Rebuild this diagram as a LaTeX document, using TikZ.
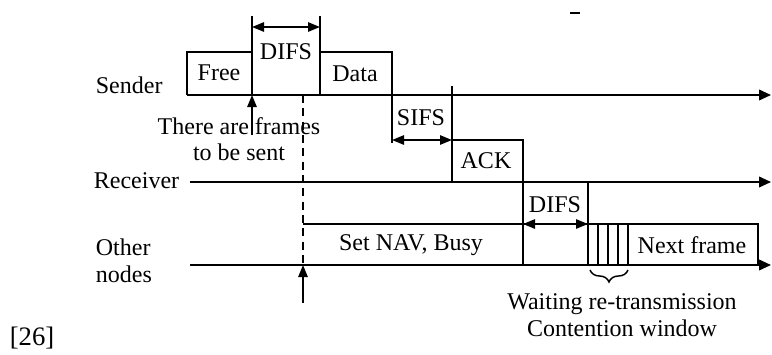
\documentclass[tikz,border=0pt]{standalone}
\usepackage{fontspec}
\setmainfont{Liberation Serif}
\usetikzlibrary{arrows.meta,positioning,decorations.pathreplacing}

\begin{document}
\begin{tikzpicture}[x=0.75pt,y=-0.75pt,line width=1.3pt,
  every node/.style={font=\fontsize{18}{20}\selectfont,inner sep=0pt},
  span/.style={{Triangle[length=9pt,width=7pt]}-{Triangle[length=9pt,width=7pt]}},
  cue/.style={-{Triangle[length=9pt,width=7pt]}},
  timeline/.style={-{Triangle[length=9pt,width=8pt]}}]
  % CSMA/CA timing of sender, receiver and other nodes
  \useasboundingbox (0,0) rectangle (772,354);
  \coordinate (sndL) at (187,95);  \coordinate (sndR) at (771,95);
  \coordinate (rcvL) at (190,182); \coordinate (rcvR) at (771,182);
  \coordinate (othL) at (190,265); \coordinate (othR) at (771,265);
  \draw[timeline] (sndL) -- (sndR);
  \draw[timeline] (rcvL) -- (rcvR);
  \draw[timeline] (othL) -- (othR);
  \draw (570,13) -- (580,13);

  % sender
  \draw (sndL) |- (252,52);
  \draw (252,16) -- (252,95);
  \draw (320,16) -- (320,95);
  \draw (320,52) -| (392,143);
  \draw (452,86) -- (452,182);
  % receiver
  \draw (452,140) -| (523,265);
  \draw (588,182) -- (588,265);
  % other nodes
  \draw[dash pattern=on 6pt off 4pt] (303,95) -- (303,265);
  \draw (303,224) -- (758,224) -- (758,265);
  \foreach \x in {598,608,618,628} \draw (\x,224) -- (\x,265);

  \coordinate (difsA) at (252,27);  \coordinate (difsB) at (320,27);
  \coordinate (sifsA) at (392,140); \coordinate (sifsB) at (452,140);
  \coordinate (difsC) at (523,224); \coordinate (difsD) at (588,224);
  \draw[span] (difsA) -- (difsB);
  \draw[span] (sifsA) -- (sifsB);
  \draw[span] (difsC) -- (difsD);
  \coordinate (ready) at (252,135);
  \coordinate (navAt) at (303,303);
  \draw[cue] (ready) -- (252,95);
  \draw[cue] (navAt) -- (303,265);
  \draw[decorate,decoration={brace,mirror,amplitude=9pt},line width=1.1pt]
    (590,270) -- (628,270);

  \node[anchor=west] (sender) at (95,85) {Sender};
  \node[anchor=west] (receiver) at (93,181) {Receiver};
  \node[anchor=west,align=left] (other) at (95,261) {Other\\nodes};
  \node (free) at (219,73) {Free};
  \node (difs1) at (286,52) {DIFS};
  \node (data) at (355,74) {Data};
  \node (sifs) at (421,118) {SIFS};
  \node (ack) at (486,161) {ACK};
  \node (difs2) at (555,205) {DIFS};
  \node (busy) at (411,245) {Set NAV, Busy};
  \node (next) at (692,245) {Next frame};
  \node[align=center] (frames) at (239,139) {There are frames\\to be sent};
  \node[align=center] (waiting) at (622,315) {Waiting re-transmission\\Contention window};
  \node[font=\fontsize{20}{22}\selectfont] (ref) at (32,338) {[26]};
\end{tikzpicture}
\end{document}
